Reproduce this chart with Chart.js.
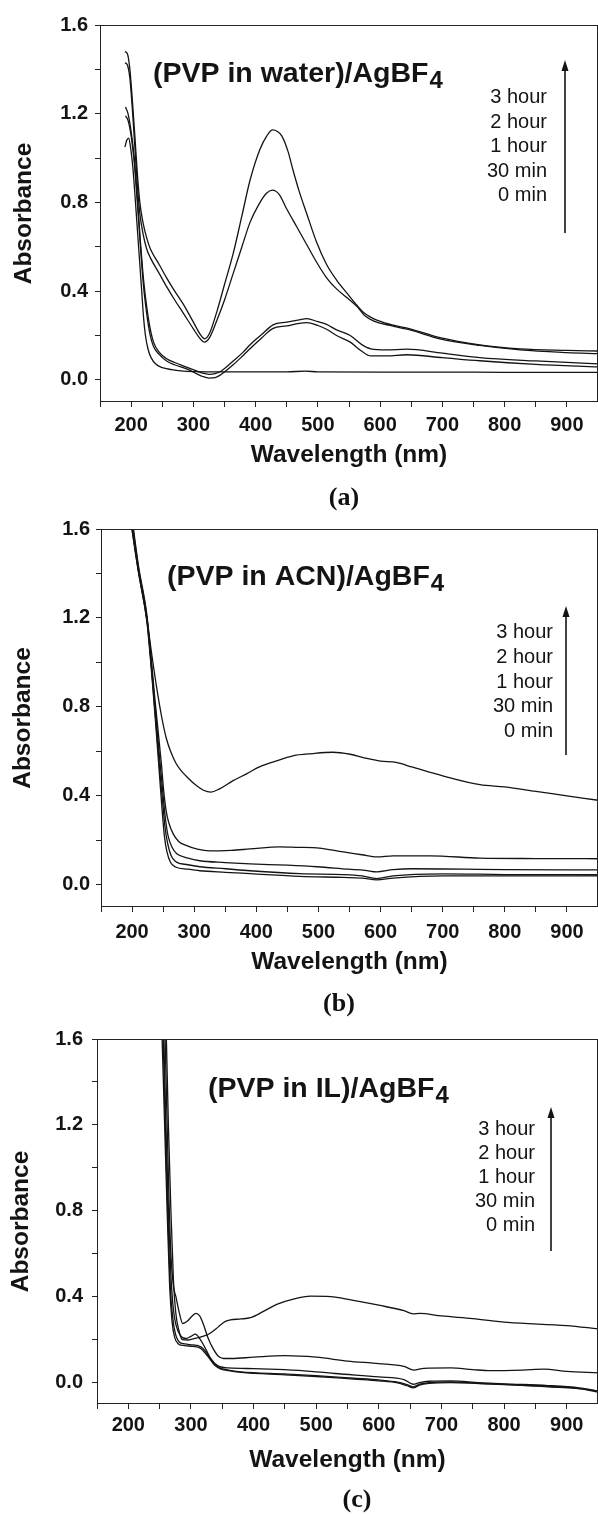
<!DOCTYPE html>
<html>
<head>
<meta charset="utf-8">
<script src="https://cdn.jsdelivr.net/npm/chart.js@4.4.1/dist/chart.umd.min.js"></script>
<style>
  html, body { margin: 0; padding: 0; background: #fff; }
  #page { position: relative; width: 598px; height: 1516px; overflow: hidden; }
  #page canvas { position: absolute; left: 0; }
  .cap { position: absolute; font: bold 26px "Liberation Serif", "DejaVu Serif", serif; color: #111; transform: translate(-50%, -50%); }
</style>
</head>
<body>
<div id="page">
  <canvas id="chartA" width="598" height="480" style="top:0px"></canvas>
  <canvas id="chartB" width="598" height="480" style="top:500px"></canvas>
  <canvas id="chartC" width="598" height="475" style="top:1010px"></canvas>
  <div class="cap" style="left:344px;top:497px">(a)</div>
  <div class="cap" style="left:339px;top:1003px">(b)</div>
  <div class="cap" style="left:357px;top:1499px">(c)</div>
</div>
<script>
// Nhãn thời gian (từ dưới lên trên)
const timeLabels = ['0 min', '30 min', '1 hour', '2 hour', '3 hour'];
const xTickValues = [150, 200, 250, 300, 350, 400, 450, 500, 550, 600, 650, 700, 750, 800, 850, 900, 950];
const yTickValues = [0, 0.2, 0.4, 0.6, 0.8, 1.0, 1.2, 1.4, 1.6];

// (a) PVP in water — [nm, absorbance]
const water0min = [[190,1.05],[193,1.08],[196,1.09],[199,1.05],[203,0.95],[207,0.8],[210,0.68],[214,0.52],[217,0.4],[220,0.28],[223,0.2],[227,0.14],[232,0.1],[240,0.07],[250,0.055],[265,0.046],[280,0.04],[300,0.037],[350,0.036],[400,0.036],[450,0.036],[480,0.039],[500,0.036],[600,0.035],[700,0.035],[800,0.034],[900,0.034],[950,0.034]];
const water30min = [[191,1.19],[195,1.17],[200,1.1],[205,0.98],[210,0.8],[215,0.6],[220,0.42],[225,0.3],[230,0.21],[236,0.15],[245,0.115],[257,0.085],[270,0.068],[290,0.048],[305,0.028],[315,0.015],[325,0.008],[335,0.01],[345,0.025],[364,0.068],[380,0.11],[391,0.14],[410,0.19],[428,0.232],[450,0.243],[470,0.255],[482,0.258],[500,0.245],[514,0.228],[530,0.2],[552,0.17],[570,0.13],[585,0.108],[610,0.108],[643,0.113],[700,0.1],[760,0.086],[850,0.07],[950,0.058]];
const water1h = [[191,1.23],[195,1.2],[200,1.12],[205,1.0],[210,0.82],[215,0.62],[220,0.45],[225,0.33],[230,0.24],[236,0.17],[245,0.125],[257,0.095],[270,0.078],[290,0.056],[305,0.04],[315,0.03],[325,0.025],[335,0.028],[345,0.04],[364,0.085],[380,0.125],[391,0.158],[410,0.205],[428,0.248],[450,0.26],[470,0.27],[482,0.276],[500,0.262],[514,0.25],[530,0.225],[552,0.2],[570,0.16],[585,0.14],[610,0.135],[643,0.138],[700,0.12],[760,0.1],[850,0.085],[950,0.072]];
const water2h = [[190,1.43],[194,1.42],[198,1.36],[202,1.22],[206,1.05],[210,0.88],[214,0.75],[219,0.66],[225,0.59],[231,0.55],[245,0.48],[257,0.42],[270,0.36],[284,0.3],[300,0.23],[311,0.185],[318,0.17],[326,0.19],[338,0.27],[350,0.36],[364,0.48],[378,0.6],[391,0.71],[405,0.79],[417,0.84],[427,0.855],[438,0.835],[450,0.77],[466,0.69],[482,0.61],[498,0.53],[514,0.46],[530,0.41],[547,0.37],[563,0.33],[575,0.29],[590,0.265],[616,0.245],[648,0.225],[696,0.185],[760,0.155],[825,0.135],[900,0.123],[950,0.118]];
const water3h = [[190,1.48],[194,1.47],[198,1.4],[202,1.26],[206,1.1],[210,0.93],[214,0.8],[219,0.71],[225,0.64],[231,0.59],[245,0.52],[257,0.46],[270,0.4],[284,0.34],[300,0.26],[311,0.205],[318,0.185],[326,0.21],[338,0.31],[350,0.43],[364,0.57],[378,0.74],[391,0.9],[407,1.04],[418,1.1],[427,1.127],[435,1.12],[442,1.1],[452,1.03],[460,0.946],[470,0.85],[482,0.75],[498,0.62],[514,0.52],[530,0.45],[547,0.39],[563,0.335],[575,0.3],[590,0.275],[616,0.25],[648,0.23],[696,0.19],[760,0.158],[825,0.14],[900,0.133],[950,0.13]];

// (b) PVP in ACN
const acn0min = [[195,1.7],[210,1.41],[224,1.18],[237,0.76],[244,0.5],[248,0.35],[252,0.22],[256,0.15],[262,0.1],[270,0.08],[290,0.07],[309,0.063],[350,0.056],[390,0.05],[470,0.038],[540,0.033],[570,0.03],[594,0.022],[620,0.03],[700,0.04],[800,0.04],[950,0.04]];
const acn30min = [[195,1.72],[210,1.42],[224,1.19],[237,0.78],[245,0.5],[249,0.38],[253,0.26],[257,0.19],[263,0.13],[270,0.105],[290,0.09],[309,0.081],[350,0.072],[390,0.063],[470,0.05],[540,0.046],[570,0.04],[594,0.028],[620,0.04],[700,0.049],[800,0.046],[950,0.045]];
const acn1h = [[195,1.74],[210,1.43],[224,1.2],[237,0.8],[246,0.52],[250,0.4],[254,0.29],[258,0.22],[265,0.165],[272,0.14],[290,0.12],[309,0.108],[350,0.1],[390,0.094],[450,0.088],[498,0.081],[548,0.07],[575,0.065],[594,0.058],[620,0.068],[652,0.072],[800,0.068],[950,0.067]];
const acn2h = [[195,1.76],[210,1.44],[224,1.21],[238,0.8],[247,0.55],[251,0.42],[255,0.33],[259,0.28],[266,0.23],[275,0.195],[288,0.176],[305,0.16],[325,0.152],[360,0.155],[390,0.161],[438,0.17],[470,0.168],[491,0.167],[540,0.148],[570,0.135],[594,0.125],[620,0.13],[680,0.13],[760,0.12],[850,0.118],[950,0.117]];
const acn3h = [[197,1.65],[205,1.5],[214,1.35],[224,1.19],[232,1.03],[240,0.88],[248,0.75],[255,0.66],[262,0.6],[270,0.55],[277,0.52],[290,0.48],[304,0.445],[315,0.425],[327,0.417],[340,0.43],[362,0.467],[385,0.5],[405,0.53],[430,0.555],[459,0.58],[490,0.59],[523,0.596],[551,0.587],[575,0.57],[600,0.556],[625,0.55],[650,0.53],[700,0.49],[760,0.45],[800,0.44],[850,0.42],[900,0.4],[950,0.38]];

// (c) PVP in IL
const il0min = [[253,1.7],[258,1.2],[262,0.8],[266,0.45],[270,0.28],[274,0.21],[280,0.18],[290,0.172],[303,0.168],[315,0.16],[322,0.14],[330,0.11],[338,0.08],[346,0.065],[360,0.055],[380,0.047],[450,0.036],[500,0.028],[560,0.016],[600,0.008],[630,-0.002],[645,-0.015],[655,-0.025],[665,-0.012],[680,-0.004],[715,0.0],[760,-0.005],[800,-0.01],[870,-0.018],[920,-0.028],[950,-0.045]];
const il30min = [[255,1.7],[259,1.2],[263,0.8],[267,0.45],[271,0.3],[275,0.23],[281,0.19],[290,0.18],[303,0.175],[315,0.168],[322,0.15],[330,0.115],[338,0.085],[346,0.068],[360,0.058],[380,0.05],[450,0.04],[500,0.032],[560,0.02],[600,0.012],[630,0.002],[645,-0.01],[655,-0.02],[665,-0.008],[680,0.0],[715,0.003],[760,-0.004],[800,-0.008],[870,-0.02],[920,-0.028],[950,-0.04]];
const il1h = [[256,1.7],[260,1.2],[264,0.8],[268,0.5],[272,0.34],[276,0.27],[283,0.22],[292,0.205],[300,0.215],[307,0.225],[315,0.2],[322,0.165],[330,0.12],[342,0.08],[360,0.068],[400,0.065],[450,0.06],[500,0.05],[530,0.042],[600,0.026],[640,0.014],[655,-0.008],[665,0.0],[680,0.006],[715,0.008],[760,0.0],[800,-0.006],[870,-0.014],[920,-0.025],[950,-0.04]];
const il2h = [[258,1.7],[262,1.2],[265,0.85],[268,0.6],[272,0.45],[276,0.4],[281,0.33],[287,0.275],[294,0.285],[302,0.31],[308,0.322],[314,0.31],[320,0.27],[327,0.21],[335,0.16],[343,0.125],[352,0.112],[365,0.112],[400,0.118],[450,0.125],[500,0.118],[550,0.1],[600,0.088],[640,0.075],[656,0.058],[672,0.066],[715,0.068],[750,0.06],[779,0.055],[830,0.058],[864,0.062],[900,0.052],[950,0.045]];
const il3h = [[260,1.7],[264,1.2],[268,0.8],[272,0.48],[276,0.32],[281,0.24],[286,0.2],[295,0.198],[305,0.205],[315,0.212],[328,0.225],[340,0.25],[347,0.268],[355,0.285],[363,0.292],[380,0.296],[395,0.302],[415,0.33],[438,0.365],[465,0.39],[491,0.402],[523,0.4],[555,0.385],[600,0.36],[640,0.335],[655,0.32],[665,0.322],[700,0.31],[750,0.298],[806,0.28],[900,0.265],[950,0.25]];

const FONT = '"Liberation Sans", Arial, sans-serif';
const INK = '#141414';

// Vẽ khung, tiêu đề, chú thích thời gian và mũi tên
const panelDecor = {
    id: 'panelDecor',
    afterDraw(chart, args, o) {
        const ctx = chart.ctx, a = chart.chartArea, t = o.top;
        ctx.save();
        ctx.strokeStyle = '#222';
        ctx.lineWidth = 1;
        ctx.strokeRect(Math.round(a.left) + 0.5, Math.round(a.top) + 0.5, Math.round(a.right - a.left) - 1, Math.round(a.bottom - a.top) - 1);

        ctx.fillStyle = INK;
        // tiêu đề trong khung
        ctx.font = 'bold 28.5px ' + FONT;
        ctx.textAlign = 'left';
        ctx.textBaseline = 'alphabetic';
        ctx.fillText(o.title, o.titleX, o.titleY - t);
        const w = ctx.measureText(o.title).width;
        ctx.font = 'bold 24px ' + FONT;
        ctx.fillText('4', o.titleX + w + 1, o.titleY - t + 6);

        // nhãn thời gian
        ctx.font = '20px ' + FONT;
        ctx.textAlign = 'right';
        timeLabels.slice().reverse().forEach((lab, i) => {
            ctx.fillText(lab, o.legendX, o.legendY - t + i * o.legendStep);
        });

        // mũi tên
        ctx.strokeStyle = INK;
        ctx.lineWidth = 1.6;
        ctx.beginPath();
        ctx.moveTo(o.arrowX, o.arrowBottom - t);
        ctx.lineTo(o.arrowX, o.arrowTop - t + 8);
        ctx.stroke();
        ctx.beginPath();
        ctx.moveTo(o.arrowX, o.arrowTop - t);
        ctx.lineTo(o.arrowX - 3.5, o.arrowTop - t + 11);
        ctx.lineTo(o.arrowX + 3.5, o.arrowTop - t + 11);
        ctx.closePath();
        ctx.fill();

        // tên trục
        ctx.font = 'bold 24.5px ' + FONT;
        ctx.textAlign = 'center';
        ctx.textBaseline = 'middle';
        ctx.fillText('Wavelength (nm)', (a.left + a.right) / 2, o.xTitleY - t);
        ctx.translate(o.yTitleX, (a.top + a.bottom) / 2);
        ctx.rotate(-Math.PI / 2);
        ctx.fillText('Absorbance', 0, 0);
        ctx.restore();
    }
};

function toPoints(pairs) {
    return pairs.map(p => ({ x: p[0], y: p[1] }));
}

function makePanel(id, series, box, decor) {
    const ctx = document.getElementById(id).getContext('2d');
    new Chart(ctx, {
        type: 'line',
        data: {
            datasets: series.map((s, i) => ({
                label: timeLabels[i],
                data: toPoints(s),
                borderColor: INK,
                borderWidth: 1.3,
                pointRadius: 0,
                fill: false,
                cubicInterpolationMode: 'monotone'
            }))
        },
        options: {
            responsive: false,
            animation: false,
            devicePixelRatio: 1,
            layout: { padding: { left: 0, top: box.areaTop - box.top, right: 598 - box.right, bottom: 0 } },
            scales: {
                x: {
                    type: 'linear', min: 150, max: 950,
                    afterBuildTicks: s => { s.ticks = xTickValues.map(v => ({ value: v })); },
                    afterFit: s => {
                        s.height = box.height - (box.areaBottom - box.top);
                        s.paddingLeft = 0; s.paddingRight = 0;
                    },
                    ticks: {
                        autoSkip: false, maxRotation: 0, padding: box.xPad, color: INK,
                        font: { family: FONT, size: 20, weight: 'bold' },
                        callback: v => (v % 100 === 0 ? String(v) : '')
                    },
                    grid: { drawOnChartArea: false, drawTicks: true, tickLength: 5, color: '#222' },
                    border: { display: false }
                },
                y: {
                    type: 'linear', min: -0.1, max: 1.6,
                    afterBuildTicks: s => { s.ticks = yTickValues.map(v => ({ value: v })); },
                    afterFit: s => {
                        s.width = box.left;
                        s.paddingTop = 0; s.paddingBottom = 0;
                    },
                    ticks: {
                        padding: box.yPad, color: INK,
                        font: { family: FONT, size: 20, weight: 'bold' },
                        callback: v => (Math.round(v * 10) % 4 === 0 ? v.toFixed(1) : '')
                    },
                    grid: { drawOnChartArea: false, drawTicks: true, tickLength: 5, color: '#222' },
                    border: { display: false }
                }
            },
            plugins: {
                legend: { display: false },
                tooltip: { enabled: false },
                panelDecor: Object.assign({ top: box.top }, decor)
            }
        },
        plugins: [panelDecor]
    });
}

document.addEventListener('DOMContentLoaded', function() {
    makePanel('chartA', [water0min, water30min, water1h, water2h, water3h],
        { top: 0, height: 480, left: 100, areaTop: 25, right: 598, areaBottom: 402, xPad: 6, yPad: 7 },
        { title: '(PVP in water)/AgBF', titleX: 153, titleY: 82, legendX: 547, legendY: 103, legendStep: 24.5,
          arrowX: 565, arrowTop: 60, arrowBottom: 233, xTitleY: 455, yTitleX: 24 });

    makePanel('chartB', [acn0min, acn30min, acn1h, acn2h, acn3h],
        { top: 500, height: 480, left: 101, areaTop: 529, right: 598, areaBottom: 907, xPad: 8, yPad: 6 },
        { title: '(PVP in ACN)/AgBF', titleX: 167, titleY: 585, legendX: 553, legendY: 638, legendStep: 24.75,
          arrowX: 566, arrowTop: 606, arrowBottom: 755, xTitleY: 962, yTitleX: 23 });

    makePanel('chartC', [il0min, il30min, il1h, il2h, il3h],
        { top: 1010, height: 475, left: 97, areaTop: 1039, right: 598, areaBottom: 1404, xPad: 4, yPad: 9 },
        { title: '(PVP in IL)/AgBF', titleX: 208, titleY: 1097, legendX: 535, legendY: 1135, legendStep: 24,
          arrowX: 551, arrowTop: 1107, arrowBottom: 1251, xTitleY: 1460, yTitleX: 21 });
});
</script>
</body>
</html>
